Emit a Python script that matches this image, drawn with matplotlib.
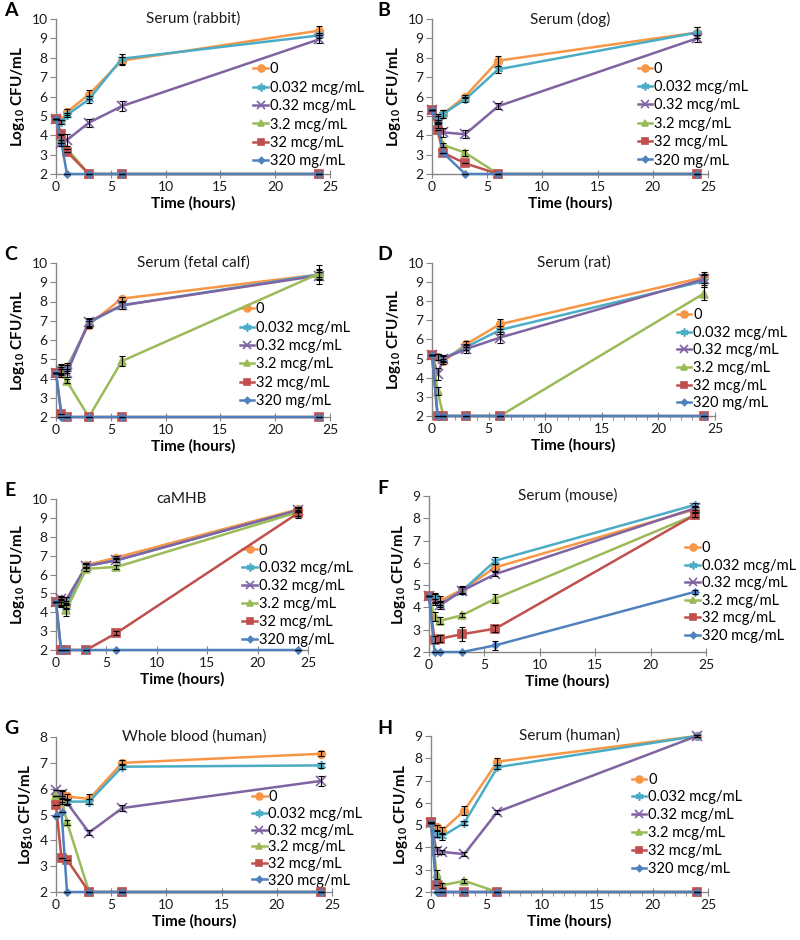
import matplotlib
matplotlib.use('Agg')
import matplotlib.pyplot as plt
from matplotlib.ticker import MultipleLocator

plt.rcParams['font.family'] = ['Lato', 'DejaVu Sans']
plt.rcParams['mathtext.fontset'] = 'custom'
plt.rcParams['mathtext.rm'] = 'Lato'
plt.rcParams['mathtext.bf'] = 'Lato:bold'

times = [0, 0.5, 1, 3, 6, 24]
labels_mg = ['0', '0.032 mcg/mL', '0.32 mcg/mL', '3.2 mcg/mL', '32 mcg/mL', '320 mg/mL']
labels_mcg = ['0', '0.032 mcg/mL', '0.32 mcg/mL', '3.2 mcg/mL', '32 mcg/mL', '320 mcg/mL']
colors = ['#F79646', '#4BACC6', '#8064A2', '#9BBB59', '#C0504D', '#4F81BD']
markers = ['o', (6, 2, 0), 'x', '^', 's', 'D']
msizes = [5.5, 6.5, 6.5, 5.5, 5.5, 3.5]

# rows: 0, 0.032, 0.32, 3.2, 32, 320
rabbit = [[4.85, 4.8, 5.2, 6.1, 7.85, 9.4],
          [4.85, 4.7, 5.05, 5.85, 7.95, 9.15],
          [4.85, 3.6, 3.75, 4.65, 5.5, 8.95],
          [4.85, 3.8, 3.3, 2.0, 2.0, 2.0],
          [4.85, 4.05, 3.15, 2.0, 2.0, 2.0],
          [4.85, 3.6, 2.0, 2.0, 2.0, 2.0]]
rabbit_err = [[0, 0, 0.15, 0.25, 0.2, 0.25],
              [0, 0.1, 0.1, 0.2, 0.25, 0.15],
              [0, 0.15, 0.3, 0.2, 0.25, 0.2],
              [0, 0.2, 0, 0, 0, 0],
              [0, 0, 0, 0, 0, 0],
              [0, 0, 0, 0, 0, 0]]

dog = [[5.3, 4.9, 5.1, 6.0, 7.85, 9.3],
       [5.3, 4.8, 5.1, 5.85, 7.4, 9.3],
       [5.3, 4.6, 4.15, 4.05, 5.5, 9.0],
       [5.3, 4.6, 3.5, 3.1, 2.0, 2.0],
       [5.3, 4.25, 3.1, 2.55, 2.0, 2.0],
       [5.3, 4.65, 3.1, 2.0, 2.0, 2.0]]
dog_err = [[0, 0.2, 0.2, 0.1, 0.25, 0.3],
           [0, 0.2, 0.2, 0.15, 0.2, 0.3],
           [0, 0.2, 0.25, 0.2, 0.15, 0.2],
           [0, 0, 0.1, 0.15, 0, 0],
           [0, 0, 0, 0, 0, 0],
           [0, 0, 0, 0, 0, 0]]

calf = [[4.3, 4.5, 4.6, 6.8, 8.15, 9.4],
        [4.3, 4.5, 4.5, 6.9, 7.8, 9.4],
        [4.3, 4.4, 4.3, 6.95, 7.8, 9.35],
        [4.3, 4.3, 3.85, 2.0, 4.9, 9.45],
        [4.3, 2.15, 2.0, 2.0, 2.0, 2.0],
        [4.3, 2.0, 2.0, 2.0, 2.0, 2.0]]
calf_err = [[0, 0.25, 0.2, 0.2, 0.1, 0.5],
            [0, 0.2, 0.2, 0.2, 0.2, 0.3],
            [0, 0.2, 0.2, 0.2, 0.2, 0.2],
            [0, 0.2, 0.1, 0, 0.25, 0.2],
            [0, 0, 0, 0, 0, 0],
            [0, 0, 0, 0, 0, 0]]

rat = [[5.2, 5.1, 4.85, 5.75, 6.8, 9.25],
       [5.2, 5.1, 5.0, 5.6, 6.5, 9.05],
       [5.2, 4.2, 5.0, 5.5, 6.1, 9.15],
       [5.2, 3.3, 2.0, 2.0, 2.0, 8.4],
       [5.2, 2.0, 2.0, 2.0, 2.0, 2.0],
       [5.2, 2.0, 2.0, 2.0, 2.0, 2.0]]
rat_err = [[0, 0.15, 0.15, 0.15, 0.25, 0.3],
           [0, 0.15, 0.15, 0.15, 0.2, 0.3],
           [0, 0.3, 0.2, 0.2, 0.3, 0.3],
           [0, 0.2, 0, 0, 0, 0.35],
           [0, 0, 0, 0, 0, 0],
           [0, 0, 0, 0, 0, 0]]

camhb = [[4.55, 4.6, 4.4, 6.5, 6.9, 9.45],
         [4.55, 4.5, 4.3, 6.45, 6.75, 9.4],
         [4.55, 4.7, 4.65, 6.45, 6.75, 9.4],
         [4.55, 4.5, 4.1, 6.3, 6.4, 9.3],
         [4.55, 2.0, 2.0, 2.0, 2.9, 9.25],
         [4.55, 2.0, 2.0, 2.0, 2.0, 2.0]]
camhb_err = [[0, 0.2, 0.2, 0.1, 0.1, 0.1],
             [0, 0.15, 0.15, 0.1, 0.1, 0.1],
             [0, 0.15, 0.15, 0.1, 0.1, 0.1],
             [0, 0.2, 0.3, 0.1, 0.1, 0.3],
             [0, 0, 0, 0, 0.1, 0.15],
             [0, 0, 0, 0, 0, 0]]

mouse = [[4.5, 4.4, 4.3, 4.8, 5.8, 8.4],
         [4.5, 4.45, 4.15, 4.75, 6.1, 8.6],
         [4.5, 4.25, 4.1, 4.75, 5.5, 8.45],
         [4.5, 3.6, 3.4, 3.65, 4.4, 8.15],
         [4.5, 2.55, 2.6, 2.8, 3.05, 8.15],
         [4.5, 2.0, 2.0, 2.0, 2.3, 4.7]]
mouse_err = [[0, 0.2, 0.2, 0.15, 0.15, 0.1],
             [0, 0.2, 0.15, 0.15, 0.15, 0.1],
             [0, 0.15, 0.15, 0.15, 0.1, 0.1],
             [0, 0.2, 0.15, 0.1, 0.2, 0.1],
             [0, 0.15, 0.15, 0.3, 0.15, 0.1],
             [0, 0, 0, 0, 0.2, 0.1]]

blood = [[5.7, 5.8, 5.7, 5.6, 7.0, 7.35],
         [5.7, 5.5, 5.5, 5.5, 6.85, 6.9],
         [5.95, 5.8, 5.45, 4.3, 5.25, 6.3],
         [5.7, 5.6, 4.7, 2.0, 2.0, 2.0],
         [5.35, 3.3, 3.25, 2.0, 2.0, 2.0],
         [4.95, 5.1, 2.0, 2.0, 2.0, 2.0]]
blood_err = [[0, 0.1, 0.1, 0.2, 0.1, 0.1],
             [0, 0.1, 0.1, 0.1, 0.1, 0.1],
             [0, 0.15, 0.1, 0.1, 0.1, 0.2],
             [0, 0.1, 0.1, 0, 0, 0],
             [0, 0, 0, 0, 0, 0],
             [0, 0, 0, 0, 0, 0]]

human = [[5.1, 4.9, 4.75, 5.65, 7.85, 9.0],
         [5.1, 4.6, 4.5, 5.1, 7.6, 9.0],
         [5.1, 3.85, 3.8, 3.7, 5.6, 9.0],
         [5.1, 2.8, 2.3, 2.5, 2.0, 2.0],
         [5.15, 2.3, 2.0, 2.0, 2.0, 2.0],
         [5.1, 2.0, 2.0, 2.0, 2.0, 2.0]]
human_err = [[0, 0.1, 0.15, 0.2, 0.15, 0.05],
             [0, 0.15, 0.15, 0.1, 0.1, 0.05],
             [0, 0.15, 0.1, 0.1, 0.1, 0.05],
             [0, 0.2, 0.1, 0.1, 0, 0],
             [0, 0, 0, 0, 0, 0],
             [0, 0, 0, 0, 0, 0]]

W, H = 800, 940
# letter, title, values, errors, ymax, labels, axes rect (px: left, top, right, bottom),
# legend anchor (axes frac), legend spacing, minor x ticks
panels = [
    ('A', 'Serum (rabbit)', rabbit, rabbit_err, 10, labels_mg, (56, 19, 330, 174), (0.72, 0.72), 0.3, False),
    ('B', 'Serum (dog)', dog, dog_err, 10, labels_mg, (432, 19, 708, 174), (0.745, 0.725), 0.3, False),
    ('C', 'Serum (fetal calf)', calf, calf_err, 10, labels_mg, (56, 263, 330, 417), (0.67, 0.745), 0.3, False),
    ('D', 'Serum (rat)', rat, rat_err, 10, labels_mg, (432, 263, 715, 416), (0.865, 0.705), 0.25, True),
    ('E', 'caMHB', camhb, camhb_err, 10, labels_mg, (56, 499, 308, 650), (0.74, 0.705), 0.27, False),
    ('F', 'Serum (mouse)', mouse, mouse_err, 9, labels_mcg, (429, 496, 706, 652), (0.925, 0.71), 0.24, False),
    ('G', 'Whole blood (human)', blood, blood_err, 8, labels_mcg, (56, 737, 332, 892), (0.71, 0.655), 0.18, False),
    ('H', 'Serum (human)', human, human_err, 9, labels_mcg, (431, 736, 708, 892), (0.725, 0.765), 0.26, True),
]

axis_col = '#868686'
fig = plt.figure(figsize=(W / 100, H / 100), dpi=100)

for i, (letter, title, vals, errs, ymax, labels, rect, leg, lsp, minor) in enumerate(panels):
    l, t, r, b = rect
    ax = fig.add_axes([l / W, 1 - b / H, (r - l) / W, (b - t) / H])
    for k in range(6):
        ax.plot(times, vals[k], color=colors[k], marker=markers[k], ms=msizes[k],
                mec=colors[k], mfc=colors[k], mew=1.2, lw=1.8, label=labels[k],
                clip_on=False, zorder=3 + k)
        ax.errorbar(times, vals[k], yerr=errs[k], fmt='none', ecolor='black',
                    elinewidth=0.8, capsize=2, capthick=0.8, clip_on=False, zorder=10)
    ax.set_xlim(0, 25)
    ax.set_ylim(2, ymax)
    ax.xaxis.set_major_locator(MultipleLocator(5))
    if minor:
        ax.xaxis.set_minor_locator(MultipleLocator(1))
    ax.yaxis.set_major_locator(MultipleLocator(1))
    for s in ['top', 'right']:
        ax.spines[s].set_visible(False)
    for s in ['left', 'bottom']:
        ax.spines[s].set_color(axis_col)
        ax.spines[s].set_linewidth(1)
    ax.tick_params(which='major', direction='out', length=4, color=axis_col,
                   labelsize=10, pad=2, labelcolor='#1a1a1a')
    ax.tick_params(axis='x', which='major', direction='inout', length=6)
    ax.tick_params(which='minor', direction='out', length=3, color=axis_col)
    ax.set_xlabel('Time (hours)', fontsize=11, fontweight='bold', labelpad=2)
    ax.set_ylabel(r'Log$_{\mathbf{10}}$ CFU/mL', fontsize=11, fontweight='bold', labelpad=3)
    ax.text(0.5, 1.0, title, transform=ax.transAxes, ha='center', va='center',
            fontsize=11, color='#1a1a1a')
    ax.legend(loc='upper left', bbox_to_anchor=leg, frameon=False, fontsize=10.5,
              handlelength=1.0, handletextpad=0.12, labelspacing=lsp,
              borderpad=0, borderaxespad=0, markerscale=0.9)
    lx = 4 if i % 2 == 0 else 377
    fig.text(lx / W, 1 - (t - 8) / H, letter, fontsize=14, fontweight='bold',
             ha='left', va='center')

fig.savefig('out.png', dpi=100)
